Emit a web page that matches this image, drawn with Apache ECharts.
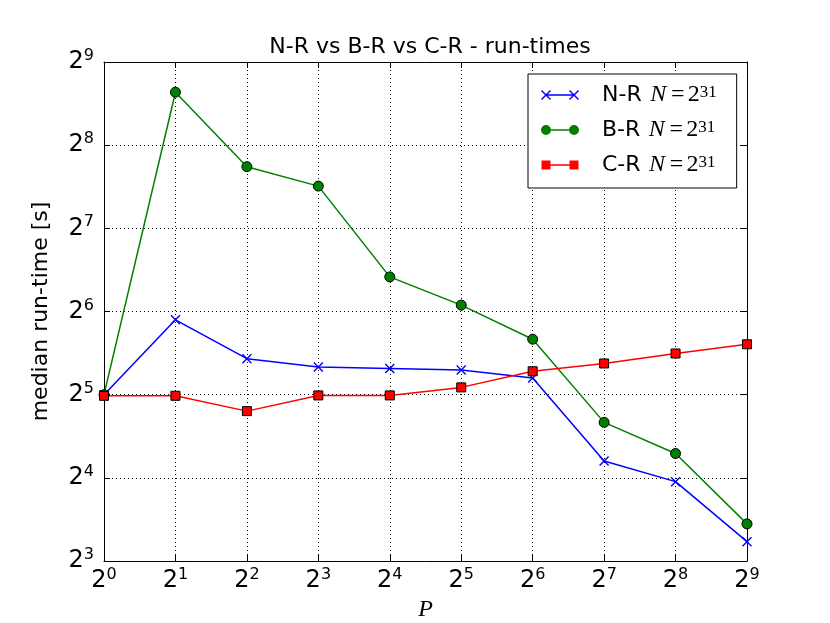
<!DOCTYPE html>
<html>
<head>
<meta charset="utf-8">
<script src="https://cdn.jsdelivr.net/npm/echarts@6/dist/echarts.min.js"></script>
<style>html,body{margin:0;padding:0;background:#fff;}#c{width:830px;height:623px;}</style>
</head>
<body>
<div id="c"></div>
<script>
// Data
var P = [1, 2, 4, 8, 16, 32, 64, 128, 256, 512];
var nr = [32, 59.7, 43.2, 40.3, 39.8, 39.3, 36.8, 18.4, 15.5, 9.4];
var br = [32, 398, 214, 182, 85.4, 67.5, 50.8, 25.4, 19.6, 10.9];
var cr = [31.7, 31.7, 27.9, 31.8, 31.8, 34.0, 38.9, 41.5, 45.1, 48.7];
var seriesNames = ['N-R', 'B-R', 'C-R'];
var titleText = 'N-R vs B-R vs C-R - run-times';
var xName = 'P';
var yName = 'median run-time [s]';

function pairs(xs, ys) { return xs.map(function (x, i) { return [x, ys[i]]; }); }
function powLabel(v) {
  var n = Math.round(Math.log(v) / Math.LN2);
  return '{b|2}{s|' + n + '}';
}
var tickRich = {
  b: { fontFamily: 'DejaVu Sans', fontSize: 24, color: '#000', lineHeight: 28 },
  s: { fontFamily: 'DejaVu Sans', fontSize: 16, color: '#000', verticalAlign: 'top', lineHeight: 16 }
};
var xSym = 'path://M0,1 L1,0 L5,4 L9,0 L10,1 L6,5 L10,9 L9,10 L5,6 L1,10 L0,9 L4,5 Z';
var iconX = 'path://M0,1 L1,0 L5,4 L9,0 L10,1 L6,5 L10,9 L9,10 L5,6 L1,10 L0,9 L4,5 Z M28,1 L29,0 L33,4 L37,0 L38,1 L34,5 L38,9 L37,10 L33,6 L29,10 L28,9 L32,5 Z M5,4.3 L33,4.3 L33,5.7 L5,5.7 Z';
var iconO = 'path://M0,5 A5,5 0 1 1 10,5 A5,5 0 1 1 0,5 Z M28,5 A5,5 0 1 1 38,5 A5,5 0 1 1 28,5 Z M5,4.3 L33,4.3 L33,5.7 L5,5.7 Z';
var iconS = 'path://M0.5,0.5 L9.5,0.5 L9.5,9.5 L0.5,9.5 Z M28.5,0.5 L37.5,0.5 L37.5,9.5 L28.5,9.5 Z M9,4.3 L29,4.3 L29,5.7 L9,5.7 Z M0,0 L0,0 M38,10 L38,10';

var chart = echarts.init(document.getElementById('c'), null, { renderer: 'canvas' });
var axisCommon = {
  type: 'log', logBase: 2,
  axisLine: { show: true, lineStyle: { color: '#000', width: 1 } },
  axisTick: { show: true, inside: true, length: 6, lineStyle: { color: '#000' } },
  minorTick: { show: false }
};
var option = {
  backgroundColor: '#fff',
  animation: false,
  title: {
    text: titleText, left: 425, top: 31, textAlign: 'center',
    textStyle: { fontFamily: 'DejaVu Sans', fontSize: 22, fontWeight: 'normal', color: '#000' }
  },
  legend: {
    orient: 'vertical', left: 528, top: 74,
    padding: [9, 20, 11, 13],
    itemGap: 11, itemWidth: 38, itemHeight: 10,
    backgroundColor: '#fff', borderColor: '#000', borderWidth: 1, borderRadius: 0,
    data: [
      { name: seriesNames[0], icon: iconX, itemStyle: { borderWidth: 0 } },
      { name: seriesNames[1], icon: iconO, itemStyle: { borderWidth: 0 } },
      { name: seriesNames[2], icon: iconS, itemStyle: { borderWidth: 0 } }
    ],
    formatter: function (name) { return '{t|' + name + ' }{m|N}{e|=}{n|2}{p|31}'; },
    textStyle: {
      padding: [0, 0, 0, 18],
      rich: {
        t: { fontFamily: 'DejaVu Sans', fontSize: 22, color: '#000', lineHeight: 22 },
        m: { fontFamily: 'Liberation Serif', fontStyle: 'italic', fontSize: 24, color: '#000', lineHeight: 22, width: 19, align: 'right' },
        e: { fontFamily: 'Liberation Serif', fontSize: 24, color: '#000', lineHeight: 22, width: 20, align: 'center' },
        n: { fontFamily: 'Liberation Serif', fontSize: 24, color: '#000', lineHeight: 22 },
        p: { fontFamily: 'Liberation Serif', fontSize: 17, color: '#000', verticalAlign: 'top', lineHeight: 14 }
      }
    }
  },
  grid: { left: 104, right: 83, top: 62, bottom: 62, containLabel: false, outerBoundsMode: 'none' },
  xAxis: [
    Object.assign({}, axisCommon, {
      position: 'bottom', min: 1, max: 512, interval: 1, splitNumber: 9,
      name: xName, nameLocation: 'middle', nameGap: 28,
      nameTextStyle: { fontFamily: 'Liberation Serif', fontStyle: 'italic', fontSize: 24, color: '#000' },
      axisLabel: { margin: 6, formatter: powLabel, rich: tickRich },
      splitLine: { show: true, lineStyle: { color: '#000', width: 1, type: [1, 3] } }
    }),
    Object.assign({}, axisCommon, {
      position: 'top', min: 1, max: 512, interval: 1, splitNumber: 9,
      axisLabel: { show: false }, splitLine: { show: false }
    })
  ],
  yAxis: [
    Object.assign({}, axisCommon, {
      position: 'left', min: 8, max: 512, interval: 1, splitNumber: 6,
      name: yName, nameLocation: 'middle', nameGap: 52,
      nameTextStyle: { fontFamily: 'DejaVu Sans', fontSize: 22, color: '#000' },
      axisLabel: { margin: 10, formatter: powLabel, rich: tickRich },
      splitLine: { show: true, lineStyle: { color: '#000', width: 1, type: [1, 3] } }
    }),
    Object.assign({}, axisCommon, {
      position: 'right', min: 8, max: 512, interval: 1, splitNumber: 6,
      axisLabel: { show: false }, splitLine: { show: false }
    })
  ],
  series: [
    {
      name: seriesNames[0], type: 'line', data: pairs(P, nr),
      symbol: xSym, symbolSize: 10, showAllSymbol: true,
      lineStyle: { color: '#0000ff', width: 1.5 },
      itemStyle: { color: '#0000ff', borderWidth: 0 }
    },
    {
      name: seriesNames[1], type: 'line', data: pairs(P, br),
      symbol: 'circle', symbolSize: 10, showAllSymbol: true,
      lineStyle: { color: '#008000', width: 1.5 },
      itemStyle: { color: '#008000', borderColor: '#000', borderWidth: 1 }
    },
    {
      name: seriesNames[2], type: 'line', data: pairs(P, cr),
      symbol: 'rect', symbolSize: 9, showAllSymbol: true,
      lineStyle: { color: '#ff0000', width: 1.5 },
      itemStyle: { color: '#ff0000', borderColor: '#000', borderWidth: 1 }
    }
  ]
};
chart.setOption(option);
</script>
</body>
</html>
